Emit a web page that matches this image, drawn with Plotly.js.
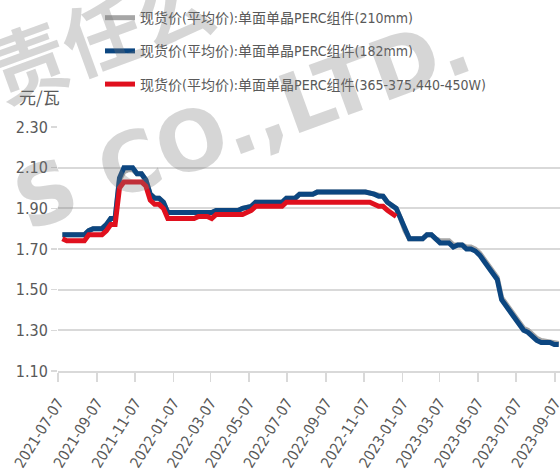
<!DOCTYPE html>
<html>
<head>
<meta charset="utf-8">
<script src="https://cdn.plot.ly/plotly-3.0.1.min.js"></script>
<style>
html,body{margin:0;padding:0;background:#fff;}
#chart{width:560px;height:475px;}
</style>
</head>
<body>
<div id="chart"></div>
<script>
// ---- Data ----
const seriesNames = [
  "现货价(平均价):单面单晶PERC组件(210mm)",
  "现货价(平均价):单面单晶PERC组件(182mm)",
  "现货价(平均价):单面单晶PERC组件(365-375,440-450W)"
];

const dates182 = ["2021-07-14","2021-08-18","2021-08-25","2021-09-01","2021-09-15","2021-09-22","2021-09-29","2021-10-06","2021-10-13","2021-10-20","2021-11-03","2021-11-10","2021-11-17","2021-11-24","2021-12-01","2021-12-08","2021-12-15","2021-12-22","2021-12-29","2022-03-09","2022-03-16","2022-04-20","2022-04-27","2022-05-11","2022-05-18","2022-06-29","2022-07-06","2022-07-20","2022-07-27","2022-08-17","2022-08-24","2022-11-09","2022-11-23","2022-11-30","2022-12-07","2022-12-14","2022-12-28","2023-01-04","2023-01-11","2023-01-18","2023-02-08","2023-02-15","2023-02-22","2023-03-01","2023-03-08","2023-03-22","2023-03-29","2023-04-05","2023-04-12","2023-04-19","2023-04-26","2023-05-03","2023-05-10","2023-05-17","2023-05-24","2023-05-31","2023-06-07","2023-06-14","2023-06-21","2023-06-28","2023-07-05","2023-07-12","2023-07-19","2023-07-26","2023-08-02","2023-08-09","2023-08-16","2023-08-30","2023-09-06","2023-09-13"];
const values182 = [1.77,1.77,1.79,1.80,1.80,1.82,1.85,1.85,2.05,2.10,2.10,2.07,2.07,2.04,1.97,1.95,1.95,1.93,1.88,1.88,1.89,1.89,1.90,1.91,1.93,1.93,1.95,1.95,1.97,1.97,1.98,1.98,1.97,1.96,1.96,1.93,1.90,1.85,1.79,1.75,1.75,1.77,1.77,1.75,1.73,1.73,1.71,1.72,1.72,1.70,1.70,1.69,1.67,1.64,1.61,1.58,1.55,1.45,1.42,1.38,1.35,1.32,1.30,1.29,1.27,1.25,1.24,1.24,1.23,1.23];

const dates210 = ["2021-07-14","2021-08-18","2021-08-25","2021-09-01","2021-09-15","2021-09-22","2021-09-29","2021-10-06","2021-10-13","2021-10-20","2021-10-27","2021-11-03","2021-11-10","2021-11-17","2021-11-24","2021-12-01","2021-12-08","2021-12-15","2021-12-22","2021-12-29","2022-03-09","2022-03-16","2022-04-20","2022-04-27","2022-05-11","2022-05-18","2022-06-29","2022-07-06","2022-07-20","2022-07-27","2022-08-17","2022-08-24","2022-11-09","2022-11-23","2022-11-30","2022-12-07","2022-12-14","2022-12-28","2023-01-04","2023-01-11","2023-01-18","2023-02-08","2023-02-15","2023-02-22","2023-03-01","2023-03-08","2023-03-22","2023-03-29","2023-04-05","2023-04-12","2023-04-19","2023-04-26","2023-05-03","2023-05-10","2023-05-17","2023-05-24","2023-05-31","2023-06-07","2023-06-14","2023-06-21","2023-06-28","2023-07-05","2023-07-12","2023-07-19","2023-07-26","2023-08-02","2023-08-09","2023-08-16","2023-08-30","2023-09-06","2023-09-13"];
const values210 = [1.77,1.77,1.79,1.80,1.80,1.82,1.85,1.85,2.04,2.08,2.09,2.09,2.07,2.07,2.04,1.97,1.95,1.95,1.93,1.88,1.88,1.89,1.89,1.90,1.91,1.93,1.93,1.95,1.95,1.97,1.97,1.98,1.98,1.97,1.96,1.96,1.93,1.90,1.85,1.79,1.75,1.75,1.77,1.77,1.75,1.74,1.74,1.72,1.72,1.72,1.71,1.71,1.70,1.68,1.65,1.62,1.59,1.56,1.46,1.43,1.39,1.36,1.33,1.31,1.30,1.28,1.26,1.25,1.245,1.24,1.235];

const datesW = ["2021-07-14","2021-07-21","2021-08-18","2021-08-25","2021-09-15","2021-09-22","2021-09-29","2021-10-06","2021-10-13","2021-10-20","2021-11-17","2021-11-24","2021-12-01","2021-12-08","2021-12-15","2021-12-22","2021-12-29","2022-02-09","2022-02-16","2022-03-02","2022-03-09","2022-03-16","2022-04-27","2022-05-04","2022-05-11","2022-05-18","2022-06-29","2022-07-06","2022-11-16","2022-11-23","2022-11-30","2022-12-07","2022-12-14","2022-12-28"];
const valuesW = [1.75,1.74,1.74,1.77,1.77,1.79,1.82,1.82,2.00,2.03,2.03,2.01,1.94,1.92,1.92,1.90,1.85,1.85,1.86,1.86,1.85,1.87,1.87,1.88,1.89,1.91,1.91,1.93,1.93,1.92,1.91,1.91,1.89,1.86];

const tickLabels = ["2021-07-07","2021-09-07","2021-11-07","2022-01-07","2022-03-07","2022-05-07","2022-07-07","2022-09-07","2022-11-07","2023-01-07","2023-03-07","2023-05-07","2023-07-07","2023-09-07"];
const yTicks = [1.10,1.30,1.50,1.70,1.90,2.10,2.30];
const unitLabel = "元/瓦";
const watermarkCN = "责任公";
const watermarkEN = ". S CO.,LTD.";

// ---- Styles ----
const colors = ["#a6a6a6", "#0c4680", "#e0101e"];
const textColor = "#595959";
const gridColor = "#d9d9d9";
const latinFont = "'Liberation Sans Narrow', 'DejaVu Sans Condensed', 'Noto Sans CJK SC', sans-serif";

const traces = [
  {x: dates210, y: values210, name: seriesNames[0], legendgroup: "a"},
  {x: dates182, y: values182, name: seriesNames[1], legendgroup: "b"},
  {x: datesW, y: valuesW, name: seriesNames[2], legendgroup: "c"}
].map((t, i) => Object.assign(t, {
  type: "scatter", mode: "lines",
  line: {color: colors[i], width: 5, shape: "linear"},
  hoverinfo: "skip"
}));

const layout = {
  width: 560, height: 475,
  margin: {l: 58, r: 0, t: 127, b: 104, autoexpand: false},
  paper_bgcolor: "#ffffff", plot_bgcolor: "#ffffff",
  font: {family: latinFont, color: textColor, size: 15},
  showlegend: true,
  legend: {
    xref: "paper", yref: "paper",
    x: (100-58)/502, y: 1 + (127.5-3)/243.2, xanchor: "left", yanchor: "top",
    font: {size: 14, color: textColor, family: latinFont},
    tracegroupgap: 12, bgcolor: "rgba(0,0,0,0)",
    itemwidth: 30
  },
  xaxis: {
    type: "date",
    range: ["2021-07-07", "2023-09-15"],
    tickvals: tickLabels, ticktext: tickLabels,
    tickangle: -58,
    ticks: "outside", ticklen: 9, tickcolor: gridColor, tickwidth: 1.5,
    ticklabelstandoff: 6, ticklabeloverflow: "allow",
    showgrid: false, zeroline: false,
    showline: true, linecolor: gridColor, linewidth: 2,
    tickfont: {size: 15, color: textColor, family: latinFont}
  },
  yaxis: {
    range: [1.0995, 2.3005],
    tickvals: yTicks, ticktext: yTicks.map(v => v.toFixed(2)),
    ticks: "outside", ticklen: 6, tickcolor: gridColor, tickwidth: 1.5,
    showgrid: true, gridcolor: gridColor, gridwidth: 2,
    zeroline: false, showline: false,
    tickfont: {size: 16, color: textColor, family: latinFont}
  },
  annotations: [
    {text: unitLabel, xref: "paper", yref: "paper", x: -41/502, y: 1.125,
     xanchor: "left", yanchor: "middle", showarrow: false,
     font: {size: 17, color: textColor, family: "'Noto Sans CJK SC', sans-serif"}},
    {text: watermarkCN, xref: "paper", yref: "paper", x: (100-58)/502, y: 1 + (127.5-33)/243.2,
     xanchor: "center", yanchor: "middle", showarrow: false, textangle: -20,
     font: {size: 78, color: "rgba(120,120,120,0.30)", family: "'Noto Sans CJK SC', sans-serif", weight: 700}},
    {text: watermarkEN, xref: "paper", yref: "paper", x: (214-58)/502, y: 1 + (127.5-134)/243.2,
     xanchor: "center", yanchor: "middle", showarrow: false, textangle: -20,
     font: {size: 83, color: "rgba(120,120,120,0.30)", family: "'DejaVu Sans', sans-serif", weight: 700}}
  ]
};

Plotly.newPlot("chart", traces, layout, {staticPlot: true, displayModeBar: false});
</script>
</body>
</html>
